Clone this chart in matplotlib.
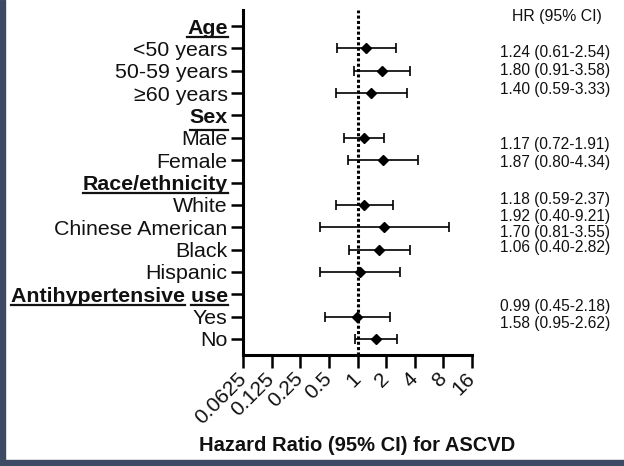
"""Forest plot of ASCVD hazard ratios by subgroup."""

import matplotlib.pyplot as plt
from matplotlib.font_manager import FontProperties
from matplotlib.lines import Line2D
from matplotlib.patches import Rectangle
from matplotlib.transforms import blended_transform_factory

plt.rcParams["font.family"] = ["Liberation Sans", "DejaVu Sans"]

ROW_LABELS = [
    "Age", "<50 years", "50-59 years", "≥60 years",
    "Sex", "Male", "Female",
    "Race/ethnicity", "White", "Chinese American", "Black", "Hispanic",
    "Antihypertensive use", "Yes", "No",
]
SECTION_LABELS = ["Age", "Sex", "Race/ethnicity", "Antihypertensive use"]
SUBGROUPS = [
    "<50 years", "50-59 years", "≥60 years", "Male", "Female",
    "White", "Chinese American", "Black", "Hispanic", "Yes", "No",
]
HR = [1.24, 1.80, 1.40, 1.17, 1.87, 1.18, 1.92, 1.70, 1.06, 0.99, 1.58]
CI_LOW = [0.61, 0.91, 0.59, 0.72, 0.80, 0.59, 0.40, 0.81, 0.40, 0.45, 0.95]
CI_HIGH = [2.54, 3.58, 3.33, 1.91, 4.34, 2.37, 9.21, 3.55, 2.82, 2.18, 2.62]
X_TICKS = [0.0625, 0.125, 0.25, 0.5, 1, 2, 4, 8, 16]
X_TICK_LABELS = ["0.0625", "0.125", "0.25", "0.5", "1", "2", "4", "8", "16"]

# the HR column in the source figure does not line up with the rows
TEXT_ROWS = [1.16, 1.97, 2.82, 5.28, 6.10, 7.78, 8.54, 9.26, 9.93, 12.54, 13.33]

FRAME = "#3c4b63"
INK = "#111111"
LABEL_SIZE = 15.4

fig = plt.figure(figsize=(6.24, 4.66), dpi=100)
fig.patches.append(Rectangle((0, 0), 5 / 624, 1, transform=fig.transFigure, color=FRAME, zorder=10))
fig.patches.append(Rectangle((0, 0), 1, 6 / 466, transform=fig.transFigure, color=FRAME, zorder=10))

ax = fig.add_axes([243 / 624, 1 - 355 / 466, 229 / 624, 345 / 466])
ax.set_xscale("log", base=2)
ax.set_xlim(X_TICKS[0], X_TICKS[-1])
ax.set_ylim(len(ROW_LABELS) - 1 + 0.72, -0.72)

ys = [ROW_LABELS.index(s) for s in SUBGROUPS]
xerr = [[h - lo for h, lo in zip(HR, CI_LOW)], [hi - h for h, hi in zip(HR, CI_HIGH)]]

ax.axvline(1, color="black", lw=2.2, linestyle=(0, (1, 0.75)), zorder=1)
ax.errorbar(
    HR, ys, xerr=xerr, fmt="D", color="black", ms=5.5,
    elinewidth=1.2, capsize=3.6, capthick=1.2, zorder=3, clip_on=False,
)

for side in ("top", "right"):
    ax.spines[side].set_visible(False)
for side in ("left", "bottom"):
    ax.spines[side].set_linewidth(2.2)

ax.set_yticks(range(len(ROW_LABELS)))
ax.set_yticklabels(ROW_LABELS, fontsize=LABEL_SIZE, color=INK)
for lab in ax.get_yticklabels():
    if lab.get_text() in SECTION_LABELS:
        lab.set_fontweight("bold")

ax.set_xticks(X_TICKS)
ax.set_xticklabels(X_TICK_LABELS, fontsize=15, color=INK, rotation=45,
                   ha="right", va="center", rotation_mode="anchor")
ax.minorticks_off()
ax.tick_params(axis="both", direction="out", length=9, width=1.8, color="black")
ax.tick_params(axis="y", pad=2)
ax.tick_params(axis="x", pad=6)

ax.set_xlabel("Hazard Ratio (95% CI) for ASCVD", fontsize=14.5, fontweight="bold",
              color=INK, labelpad=6)

col = blended_transform_factory(ax.transAxes, ax.transData)
ax.text(1.371, -0.45, "HR (95% CI)", transform=col, fontsize=11.4, color=INK,
        ha="center", va="center")
for row, h, lo, hi in zip(TEXT_ROWS, HR, CI_LOW, CI_HIGH):
    ax.text(1.122, row, f"{h:.2f} ({lo:.2f}-{hi:.2f})", transform=col,
            fontsize=11.2, color=INK, ha="left", va="center")

# underline the section headers word by word
fig.canvas.draw()
renderer = fig.canvas.get_renderer()
props = FontProperties(family=plt.rcParams["font.family"], size=LABEL_SIZE, weight="bold")
for lab in ax.get_yticklabels():
    text = lab.get_text()
    if text not in SECTION_LABELS:
        continue
    bbox = lab.get_window_extent(renderer)
    _, _, descent = renderer.get_text_width_height_descent(text, props, ismath=False)
    y = bbox.y0 + descent - 3
    x = bbox.x0
    words = text.split(" ")
    for i, word in enumerate(words):
        w, _, _ = renderer.get_text_width_height_descent(word, props, ismath=False)
        fig.add_artist(Line2D([x / 624, (x + w) / 624], [y / 466, y / 466],
                              transform=fig.transFigure, color=INK, lw=1.6))
        if i < len(words) - 1:
            ws, _, _ = renderer.get_text_width_height_descent(word + " ", props, ismath=False)
            x += ws

fig.savefig("out.png", dpi=100)
